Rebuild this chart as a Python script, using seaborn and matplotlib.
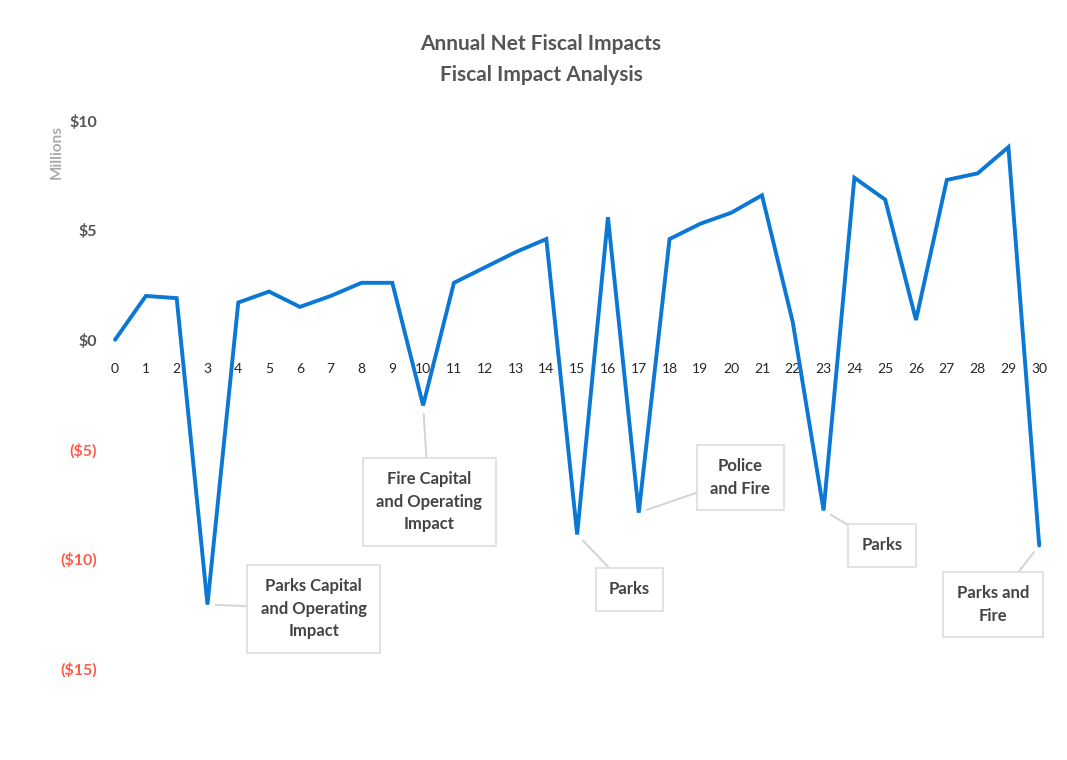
import numpy as np
import pandas as pd
import matplotlib
matplotlib.use('Agg')
import matplotlib.pyplot as plt
import seaborn as sns

# Annual net fiscal impact, in millions of dollars
years = list(range(0, 31))
net_impact = [0.0, 2.0, 1.9, -12.1, 1.7, 2.2, 1.5, 2.0, 2.6, 2.6,
              -3.0, 2.6, 3.3, 4.0, 4.6, -8.9, 5.6, -7.9, 4.6, 5.3,
              5.8, 6.6, 0.8, -7.8, 7.4, 6.4, 0.9, 7.3, 7.6, 8.8, -9.4]

y_ticks = [10, 5, 0, -5, -10, -15]
y_tick_labels = ['$10', '$5', '$0', '($5)', '($10)', '($15)']

callout_texts = ['Parks Capital\nand Operating\nImpact',
                 'Fire Capital\nand Operating\nImpact',
                 'Parks',
                 'Police\nand Fire',
                 'Parks',
                 'Parks and\nFire']
callout_years = [3, 10, 15, 17, 23, 30]
callout_text_xy = [(6.45, -12.3), (10.2, -7.4), (16.7, -11.4),
                   (20.3, -6.3), (24.9, -9.4), (28.5, -12.1)]

sns.set_style('white')
plt.rcParams['font.family'] = ['Lato', 'DejaVu Sans']

df = pd.DataFrame({'year': years, 'impact': net_impact})

fig = plt.figure(figsize=(10.67, 7.6), dpi=100)
ax = fig.add_axes([0.0934, 0.121, 0.895, 0.72])

sns.lineplot(data=df, x='year', y='impact', ax=ax, color='#0a78d4',
             linewidth=2.8, solid_joinstyle='miter')

ax.set_xlim(-0.5, 30.5)
ax.set_ylim(-15, 10)
ax.set_yticks(y_ticks)
ax.set_yticklabels(y_tick_labels, fontweight='bold', fontsize=11.5)
for lbl, v in zip(ax.get_yticklabels(), y_ticks):
    lbl.set_color('#ff5a4a' if v < 0 else '#555555')

ax.set_xticks(years)
ax.set_xticklabels([str(y) for y in years], fontsize=11.5, color='#666666')
ax.spines['bottom'].set_position(('data', 0))
for s in ax.spines.values():
    s.set_visible(False)
ax.tick_params(axis='both', length=0)
ax.tick_params(axis='x', pad=17)
ax.tick_params(axis='y', pad=2)
ax.set_xlabel('')
ax.set_ylabel('')

fig.text(0.053, 0.80, 'Millions', rotation=90, ha='center', va='center',
         fontsize=11, fontweight='bold', color='#aaaaaa')

fig.suptitle('Annual Net Fiscal Impacts\nFiscal Impact Analysis', x=0.507, y=0.955,
             fontsize=15, fontweight='bold', color='#555555', linespacing=1.7)

for txt, yr, (tx, ty) in zip(callout_texts, callout_years, callout_text_xy):
    ax.annotate(txt, xy=(yr, net_impact[yr]), xytext=(tx, ty),
                ha='center', va='center', fontsize=12, fontweight='bold',
                color='#444444', linespacing=1.5,
                bbox=dict(boxstyle='square,pad=0.8', fc='white', ec='#dddddd', lw=1.2),
                arrowprops=dict(arrowstyle='-', color='#d5d5d5', lw=1.5,
                                shrinkA=0, shrinkB=6))

fig.savefig('out.png', dpi=100)
